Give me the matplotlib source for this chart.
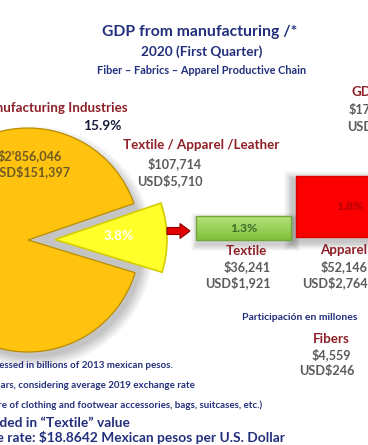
import matplotlib
matplotlib.use("Agg")
import matplotlib.pyplot as plt
from matplotlib.patches import Rectangle, FancyArrow, Circle
import numpy as np

# ---------------- data ----------------
title_lines = ["GDP from manufacturing /*", "2020 (First Quarter)",
               "Fiber \u2013 Fabrics \u2013 Apparel Productive Chain"]
pie_labels = ["Manufacturing Industries", "Textile / Apparel /Leather"]
pie_mxn = [2856046, 107714]
pie_usd = [151397, 5710]
pie_pct = ["15.9%", "3.8%"]
pie_shares_drawn = [90.0, 10.0]         # angular shares as drawn in the picture

chain_labels = ["Textile", "Apparel", "Fibers"]
chain_mxn = [36241, 52146, 4559]
chain_usd = [1921, 2764, 246]
chain_pct = ["1.3%", "1.8%"]

right_top = ["GDP", "$17", "USD"]       # cut at the right edge
units_label = "Participación en millones"
footnotes = ["/* Expressed in billions of 2013 mexican pesos.",
             "** U.S. Dollars, considering average 2019 exchange rate",
             "*** (Manufacture of clothing and footwear accessories, bags, suitcases, etc.)",
             "Fibers included in \u201cTextile\u201d value",
             "Exchange rate: $18.8642 Mexican pesos per U.S. Dollar"]

def mxn(v):
    s = f"${v:,}"
    if v >= 1_000_000:
        s = s.replace(",", "'", 1)
    return s

def usd(v):
    return f"USD${v:,}"

# ---------------- style ----------------
NAVY = "#222f7c"
MAROON = "#8e1f26"
GRAY = "#5b5b5b"
plt.rcParams["font.family"] = ["Lato", "DejaVu Sans"]

W, H = 368, 445
fig = plt.figure(figsize=(W / 100, H / 100), dpi=100)
ax = fig.add_axes([0, 0, 1, 1])
renderer = fig.canvas.get_renderer()


def text_width(s, size, weight="bold"):
    t = ax.text(0, 0, s, fontsize=size, fontweight=weight)
    w = t.get_window_extent(renderer).width
    t.remove()
    return w


def fit(s, width, weight="bold"):
    return 10 * width / text_width(s, 10, weight)


def put(x, y, s, color, size, ha="center", weight="bold", z=5):
    ax.text(x, y, s, color=color, fontsize=size, ha=ha, va="center",
            fontweight=weight, zorder=z)

# ---------------- pie ----------------
cx, cy, r = 28, 240, 112
s = pie_shares_drawn[1] / sum(pie_shares_drawn)
centre_angle = -1.0  # data angle (y axis is inverted -> points slightly up)
start = centre_angle + 180 * s

# soft shadow
for k in range(12):
    ax.add_patch(Circle((cx + 5, cy + 7), r + 9 - k, color="#000000",
                        alpha=0.018, lw=0, zorder=1))

wedges, _ = ax.pie(pie_shares_drawn, center=(cx, cy), radius=r,
                   startangle=start, explode=[0, 27],
                   colors=["#ffc20e", "#ffff2a"],
                   wedgeprops=dict(linewidth=0.9, zorder=2), frame=True)
wedges[0].set_edgecolor("#b88c00")
wedges[1].set_edgecolor("#d6cc00")
wedges[1].set_linewidth(1.2)

# ---------------- boxes ----------------
def shadow_rect(x0, y0, w, h, dx, dy, n=8):
    for k in range(n):
        ax.add_patch(Rectangle((x0 + dx - (n - k) * 0.9, y0 + dy - (n - k) * 0.9),
                               w + 2 * (n - k) * 0.9, h + 2 * (n - k) * 0.9,
                               color="#000000", alpha=0.025, lw=0, zorder=1))

# green (Textile)
gx0, gy0, gw, gh = 196, 216, 95, 24
shadow_rect(gx0, gy0, gw, gh, 2, 4)
grad = np.linspace(0, 1, 64)[:, None]
top = np.array(matplotlib.colors.to_rgb("#b6e37c"))
bot = np.array(matplotlib.colors.to_rgb("#7fbf3c"))
img = top[None, None, :] * (1 - grad[..., None]) + bot[None, None, :] * grad[..., None]
img = np.repeat(img, 2, axis=1)
ax.imshow(img, extent=(gx0, gx0 + gw, gy0 + gh, gy0), origin="upper",
          aspect="auto", zorder=3, interpolation="bilinear")
ax.add_patch(Rectangle((gx0, gy0), gw, gh, fill=False, ec="#6fa838", lw=1.0, zorder=4))

# red (Apparel)
rx0, ry0, rw, rh = 296, 176, 90, 61
shadow_rect(rx0, ry0, rw, rh, -3, 4, n=10)
ax.add_patch(Rectangle((rx0, ry0), rw, rh, fc="#fb0000", ec="#d80000", lw=1.0, zorder=3))

# arrow
ax.add_patch(FancyArrow(167, 231, 13, 0, width=7, head_width=15, head_length=10,
                        length_includes_head=False, fc="#e30000", ec="#8a0000",
                        lw=0.8, zorder=5))

# ---------------- texts ----------------
put(200, 32, title_lines[0], NAVY, fit(title_lines[0], 195))
put(202, 52, title_lines[1], NAVY, fit(title_lines[1], 121))
put(202, 70, title_lines[2], NAVY, fit(title_lines[2], 210))

hdr = fit(pie_labels[1], 156)
put(128, 108, pie_labels[0], MAROON, hdr, ha="right")
put(102, 126, pie_pct[0], "#1b1b3c", fit(pie_pct[0], 38))
put(201, 145, pie_labels[1], MAROON, hdr)

val = fit(mxn(chain_mxn[0]), 47)
put(62, 156, mxn(pie_mxn[0]), "#6d5a25", val, ha="right")
put(70, 172, usd(pie_usd[0]), "#6d5a25", val, ha="right")
put(175, 164, mxn(pie_mxn[1]), GRAY, val)
put(170, 181, usd(pie_usd[1]), GRAY, val)
put(119, 236, pie_pct[1], "white", fit(pie_pct[1], 30))

put(244, 228, chain_pct[0], "#3f6a28", fit(chain_pct[0], 27))
put(246, 251, chain_labels[0], MAROON, hdr)
put(247, 267, mxn(chain_mxn[0]), GRAY, val)
put(238, 283, usd(chain_usd[0]), GRAY, val)

put(350, 207, chain_pct[1], "#b40000", fit(chain_pct[0], 27))
put(320, 250, chain_labels[1], MAROON, hdr, ha="left")
put(321, 267, mxn(chain_mxn[1]), GRAY, val, ha="left")
put(302, 283, usd(chain_usd[1]), GRAY, val, ha="left")

put(352, 92, right_top[0], MAROON, hdr, ha="left")
put(349, 110, right_top[1], GRAY, val, ha="left")
put(347, 127, right_top[2], GRAY, val, ha="left")

put(300, 317, units_label, NAVY, fit(units_label, 116))
put(331, 339, chain_labels[2], MAROON, hdr)
put(331, 355, mxn(chain_mxn[2]), GRAY, val)
put(327, 371, usd(chain_usd[2]), GRAY, val)

small = fit("ressed in billions of 2013 mexican pesos.", 178)
big = fit("e rate: $18.8642 Mexican pesos per U.S. Dollar", 288)
put(173, 365, footnotes[0], NAVY, small, ha="right")
put(195, 385, footnotes[1], NAVY, small, ha="right")
put(262, 405, footnotes[2], NAVY, small, ha="right")
put(130, 423, footnotes[3], NAVY, big, ha="right")
put(285, 437, footnotes[4], NAVY, big, ha="right")

ax.set_xlim(0, W)
ax.set_ylim(H, 0)
ax.set_aspect("auto")
ax.axis("off")
fig.savefig("out.png", dpi=100, facecolor="white")
